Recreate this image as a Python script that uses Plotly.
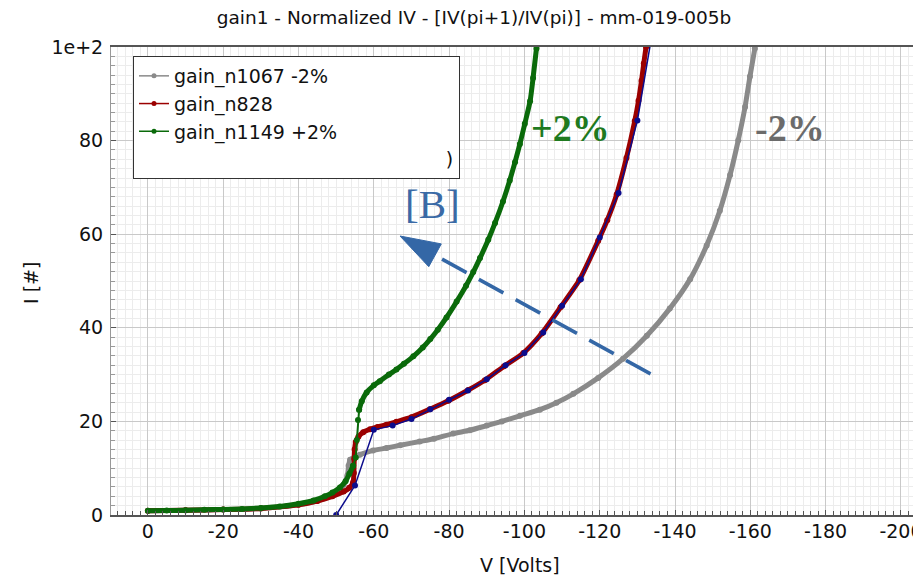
import plotly.graph_objects as go

# ---------------- data ----------------
v_gray = [0, -10, -20, -30, -40, -45, -49, -51, -52, -53, -53.3, -53.7, -55.4, -56.3, -59.8,
          -63.4, -67, -72.2, -76, -81.1, -85.5, -90, -94, -98.8, -104.1, -108.5, -113,
          -119.6, -126.2, -132.5, -138.6, -144, -148.4, -151.9, -154.6, -156.8, -158.6,
          -159.9, -161.2]
i_gray = [0.9, 1.0, 1.15, 1.4, 2.2, 3.0, 4.2, 5.3, 6.5, 8.5, 10.5, 11.8, 12.6, 12.9, 13.8,
          14.3, 14.9, 15.7, 16.3, 17.4, 18.1, 19.1, 20.0, 21.2, 22.5, 24.0, 25.9,
          29.3, 33.4, 38.3, 44.1, 50.4, 57.6, 65.0, 72.6, 80.1, 87.2, 93.7, 99.7]

v_red = [0, -10, -20, -30, -40, -45, -49, -52, -53.5, -54.5, -54.7, -54.8, -54.9, -55.2,
         -55.9, -57.2, -59, -61, -63.4, -66, -70, -74.9, -79.8, -85.1, -89.5, -94.6, -99.7,
         -104.6, -109.6, -114.6, -119.6, -122, -124.5, -127.1, -129.3, -130.3, -131.1,
         -131.7, -132.3]
i_red = [0.9, 1.0, 1.15, 1.4, 2.2, 3.0, 4.0, 5.0, 5.8, 7.0, 9.0, 12.0, 14.0, 15.6,
         16.7, 17.7, 18.3, 18.8, 19.3, 19.9, 20.9, 22.6, 24.4, 26.7, 28.8, 31.8, 34.6,
         38.8, 44.4, 50.2, 58.6, 63.0, 68.5, 76.3, 84.2, 88.5, 92.8, 96.5, 100.0]

v_green = [0, -5, -10, -15, -20, -25, -30, -35, -40, -44, -47, -49, -51, -52.5, -53.5,
           -54.5, -55.2, -55.5, -55.8, -56.1, -56.8, -58.1, -60, -61.6, -64, -66, -68,
           -70.5, -73, -75, -77, -79.3, -82, -84.5, -86.4, -88.2, -90.4, -92.2, -94.3,
           -96.1, -97.5, -98.8, -100.1, -101.5, -102.3, -103.2]
i_green = [0.9, 0.95, 1.0, 1.1, 1.2, 1.3, 1.5, 1.8, 2.4, 3.1, 4.0, 4.8, 5.9, 7.2, 8.8,
           10.5, 12.3, 16.0, 20.3, 22.5, 24.3, 26.2, 27.7, 28.6, 30.0, 31.1, 32.3,
           33.9, 35.8, 37.6, 39.6, 42.2, 45.6, 49.0, 51.9, 54.9, 58.8, 62.4, 67.0,
           71.5, 75.4, 79.3, 83.6, 88.4, 93.4, 99.7]

v_blue = [-50, -55, -60, -65, -70, -75, -80, -85, -90, -95, -100, -105, -110, -115,
          -120, -125, -130, -135]
i_blue = [0, 6.3, 18.2, 19.1, 20.5, 22.6, 24.6, 26.6, 29.0, 32.0, 34.6, 39.0, 44.7,
          50.4, 59.3, 68.8, 84.3, 108]

names = ["gain_n1067 -2%", "gain_n828", "gain_n1149 +2%"]
colors = ["#8a8a8a", "#9b0000", "#0a6a0a"]
blue = "#0c0c8c"

x_tickvals = [0, -20, -40, -60, -80, -100, -120, -140, -160, -180, -200]
x_ticktext = ["0", "-20", "-40", "-60", "-80", "-100", "-120", "-140", "-160", "-180", "-200"]
y_tickvals = [0, 20, 40, 60, 80, 100]
y_ticktext = ["0", "20", "40", "60", "80", "1e+2"]

# ---------------- layout geometry ----------------
W, H = 913, 577
L, R, T, B = 111, 913, 47, 515
XR = [9.8, -203.2]
YR = [0, 100]


def px2x(px):
    return XR[0] + (px - L) / (R - L) * (XR[1] - XR[0])


def py2y(py):
    return YR[0] + (B - py) / (B - T) * (YR[1] - YR[0])


def px2paper(px):
    return (px - L) / (R - L)


def py2paper(py):
    return (B - py) / (B - T)


FONT = "DejaVu Sans"

fig = go.Figure()


def thick(vx, iy, c):
    fig.add_trace(go.Scatter(x=vx, y=iy, mode="lines+markers",
                             line=dict(color=c, width=5, shape="spline", smoothing=0.6),
                             marker=dict(color=c, size=6),
                             showlegend=False, hoverinfo="skip"))


thick(v_gray, i_gray, colors[0])
thick(v_red, i_red, colors[1])
# green: thick dense parts, thin line through the vertical jump
J0, J1 = 15, 19
thick(v_green[:J0 + 1], i_green[:J0 + 1], colors[2])
fig.add_trace(go.Scatter(x=v_green[J0:J1 + 1], y=i_green[J0:J1 + 1], mode="lines+markers",
                         line=dict(color=colors[2], width=2),
                         marker=dict(color=colors[2], size=6),
                         showlegend=False, hoverinfo="skip"))
thick(v_green[J1:], i_green[J1:], colors[2])

fig.add_trace(go.Scatter(x=v_blue, y=i_blue, mode="lines+markers",
                         line=dict(color=blue, width=1.5),
                         marker=dict(color=blue, size=6),
                         showlegend=False, hoverinfo="skip"))

# legend proxies (thin lines as in the reference legend)
for n, c in zip(names, colors):
    fig.add_trace(go.Scatter(x=[None], y=[None], mode="lines+markers", name=n,
                             line=dict(color=c, width=1.5),
                             marker=dict(color=c, size=5)))
fig.add_trace(go.Scatter(x=[None], y=[None], mode="lines",
                         name="\u00a0" * 45 + ")",
                         line=dict(color="rgba(0,0,0,0)", width=1)))

# ---------------- arrow [B] ----------------
arrow_col = "#3467a6"
tip = (400, 236)
tail = (658, 378)
dx, dy = tail[0] - tip[0], tail[1] - tip[1]
ln = (dx ** 2 + dy ** 2) ** 0.5
ux, uy = dx / ln, dy / ln
nx, ny = -uy, ux
head_len, head_half = 40, 13
bx, by = tip[0] + head_len * ux, tip[1] + head_len * uy
c1 = (bx + head_half * nx, by + head_half * ny)
c2 = (bx - head_half * nx, by - head_half * ny)
path = "M {},{} L {},{} L {},{} Z".format(px2x(tip[0]), py2y(tip[1]),
                                          px2x(c1[0]), py2y(c1[1]),
                                          px2x(c2[0]), py2y(c2[1]))
fig.add_shape(type="path", path=path, xref="x", yref="y",
              fillcolor=arrow_col, line=dict(color=arrow_col, width=1))
start = (tip[0] + (head_len + 8) * ux, tip[1] + (head_len + 8) * uy)
fig.add_shape(type="line", xref="x", yref="y",
              x0=px2x(start[0]), y0=py2y(start[1]),
              x1=px2x(tail[0]), y1=py2y(tail[1]),
              line=dict(color=arrow_col, width=3.5, dash="28px,14px"))

annotations = [
    dict(text="<b>+2%</b>", x=px2paper(570), y=py2paper(128), xref="paper", yref="paper",
         showarrow=False, font=dict(family="Liberation Serif", size=38, color="#1f7a1f"),
         xanchor="center", yanchor="middle"),
    dict(text="<b>-2%</b>", x=px2paper(790), y=py2paper(128), xref="paper", yref="paper",
         showarrow=False, font=dict(family="Liberation Serif", size=38, color="#6b6b6b"),
         xanchor="center", yanchor="middle"),
    dict(text="[B]", x=px2paper(432), y=py2paper(204), xref="paper", yref="paper",
         showarrow=False, font=dict(family="Liberation Serif", size=41, color="#3a6aa6"),
         xanchor="center", yanchor="middle"),
    dict(text="V [Volts]", x=px2paper(520), y=py2paper(565), xref="paper", yref="paper",
         showarrow=False, font=dict(family=FONT, size=19, color="#111"),
         xanchor="center", yanchor="middle"),
    dict(text="I [#]", x=px2paper(31), y=py2paper(283), xref="paper", yref="paper",
         showarrow=False, textangle=-90, font=dict(family=FONT, size=19, color="#111"),
         xanchor="center", yanchor="middle"),
]

axis_common = dict(
    showgrid=True, gridcolor="#c9c9c9", gridwidth=1,
    zeroline=False, ticks="inside", ticklen=5, tickcolor="#555",
    tickfont=dict(family=FONT, size=19, color="#111"),
    showline=True, ticklabeloverflow="allow", automargin=False,
)

fig.update_layout(
    width=W, height=H,
    margin=dict(l=L, r=W - R, t=T, b=H - B, pad=0, autoexpand=False),
    paper_bgcolor="white", plot_bgcolor="white",
    font=dict(family=FONT, color="#111"),
    title=dict(text="gain1 - Normalized IV - [IV(pi+1)/IV(pi)] - mm-019-005b",
               x=474 / W, xref="container", xanchor="center",
               y=1 - 18 / H, yref="container", yanchor="middle",
               font=dict(family=FONT, size=18.5, color="#111")),
    xaxis=dict(range=XR, tickvals=x_tickvals, ticktext=x_ticktext,
               linecolor="#555", linewidth=1.5, mirror=True,
               ticklabelstandoff=-2,
               minor=dict(dtick=2, showgrid=True, gridcolor="#ececec",
                          ticks="inside", ticklen=4, tickcolor="#555"),
               **axis_common),
    yaxis=dict(range=YR, tickvals=y_tickvals, ticktext=y_ticktext,
               linecolor="#999", linewidth=1, mirror=False,
               ticklabelstandoff=3,
               minor=dict(dtick=2, showgrid=True, gridcolor="#ececec",
                          ticks="inside", ticklen=4, tickcolor="#999"),
               **axis_common),
    legend=dict(x=px2paper(133), y=py2paper(56), xanchor="left", yanchor="top",
                bgcolor="white", bordercolor="#333", borderwidth=1,
                font=dict(family=FONT, size=19, color="#111"),
                tracegroupgap=0),
    annotations=annotations,
    showlegend=True,
)

fig.write_html("out.html")
